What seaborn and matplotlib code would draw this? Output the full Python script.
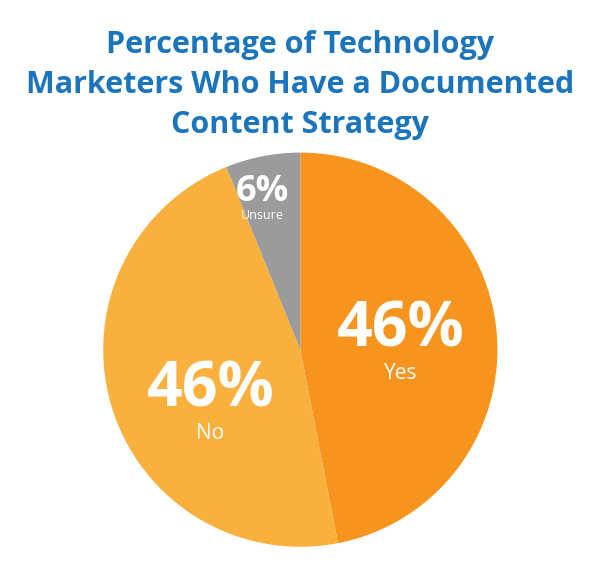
import matplotlib
matplotlib.use("Agg")
import matplotlib.pyplot as plt
import seaborn as sns

labels = ["Yes", "No", "Unsure"]
values = [46, 46, 6]
colors = ["#F7941D", "#F9B03C", "#9B9B9B"]

sns.set_theme(style="white", font="Open Sans")

fig = plt.figure(figsize=(6, 5.78), dpi=100)
ax = fig.add_axes([0.172, 0.054, 0.657, 0.682])
ax.pie(values, colors=colors, startangle=90, counterclock=False,
       wedgeprops={"linewidth": 0})
ax.set_xlim(-1, 1)
ax.set_ylim(-1, 1)
ax.set_aspect("equal")


def to_data(px, py):
    return (px - 300) / 197, (350 - py) / 197


# label positions in pixel space of the reference
spots = {"Yes": (400, 330, 45, 15), "No": (210, 390, 45, 15), "Unsure": (262, 192, 26, 9)}
for lab, val in zip(labels, values):
    px, py, big, small = spots[lab]
    x, y = to_data(px, py)
    ax.text(x, y, f"{val}%", color="white", fontsize=big, fontweight="bold",
            ha="center", va="center")
    x2, y2 = to_data(px, py + (44 if big > 30 else 24))
    ax.text(x2, y2, lab, color="white", fontsize=small, ha="center", va="center")

title = ["Percentage of Technology",
         "Marketers Who Have a Documented",
         "Content Strategy"]
for i, line in enumerate(title):
    fig.text(0.5, 1 - (45 + 40 * i) / 578, line, color="#1B75BC", fontsize=22,
             fontweight="bold", ha="center", va="center")

fig.savefig("out.png", dpi=100, facecolor="white")
